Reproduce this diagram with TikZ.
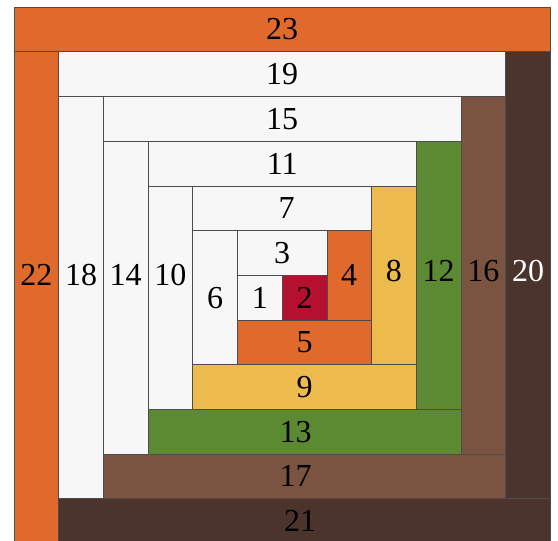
\documentclass[tikz,border=0pt]{standalone}
\usepackage{fontspec}
\setmainfont{Liberation Serif}
\usepackage{tikz}
\usetikzlibrary{positioning}
\usepackage{xcolor}
\definecolor{rust}{HTML}{DF6A2C}
\definecolor{darkbrown}{HTML}{4B342C}
\definecolor{midbrown}{HTML}{7A5441}
\definecolor{leaf}{HTML}{5C8A32}
\definecolor{mustard}{HTML}{EDBA4E}
\definecolor{crimson}{HTML}{B5102F}
\definecolor{offwhite}{HTML}{F7F7F7}

\begin{document}
\begin{tikzpicture}[
    x=44.7pt, y=-44.7pt,
    strip/.style={draw=black!70, line width=0.6pt},
    num/.style={inner sep=0pt, font=\fontsize{32}{38}\selectfont}
]
\useasboundingbox (-0.313,-0.157) rectangle (12.170,11.924);
\clip (-0.313,-0.157) rectangle (12.170,11.924);
\fill[white] (-0.313,-0.157) rectangle (12.170,11.924);

% Outer round
\draw[strip, fill=rust] (0,0) rectangle (12,1);
\draw[strip, fill=rust] (0,1) rectangle (1,12);
\draw[strip, fill=darkbrown] (1,11) rectangle (12,12);
\draw[strip, fill=darkbrown] (11,1) rectangle (12,11);
% Fifth round
\draw[strip, fill=offwhite] (1,1) rectangle (11,2);
\draw[strip, fill=offwhite] (1,2) rectangle (2,11);
% Fourth round
\draw[strip, fill=midbrown] (2,10) rectangle (11,11);
\draw[strip, fill=midbrown] (10,2) rectangle (11,10);
\draw[strip, fill=offwhite] (2,2) rectangle (10,3);
\draw[strip, fill=offwhite] (2,3) rectangle (3,10);
% Third round
\draw[strip, fill=leaf] (3,9) rectangle (10,10);
\draw[strip, fill=leaf] (9,3) rectangle (10,9);
\draw[strip, fill=offwhite] (3,3) rectangle (9,4);
\draw[strip, fill=offwhite] (3,4) rectangle (4,9);
% Second round
\draw[strip, fill=mustard] (4,8) rectangle (9,9);
\draw[strip, fill=mustard] (8,4) rectangle (9,8);
\draw[strip, fill=offwhite] (4,4) rectangle (8,5);
\draw[strip, fill=offwhite] (4,5) rectangle (5,8);
% First round
\draw[strip, fill=rust] (5,7) rectangle (8,8);
\draw[strip, fill=rust] (7,5) rectangle (8,7);
\draw[strip, fill=offwhite] (5,5) rectangle (7,6);
% Centre
\draw[strip, fill=crimson] (6,6) rectangle (7,7);
\draw[strip, fill=offwhite] (5,6) rectangle (6,7);

% Numbers
\node[num] (n1) at (5.5,6.5) {1};
\node[num] (n2) at (6.5,6.5) {2};
\node[num] (n3) at (6,5.5) {3};
\node[num] (n4) at (7.5,6) {4};
\node[num] (n5) at (6.5,7.5) {5};
\node[num] (n6) at (4.5,6.5) {6};
\node[num] (n7) at (6.1,4.5) {7};
\node[num] (n8) at (8.5,5.9) {8};
\node[num] (n9) at (6.5,8.5) {9};
\node[num] (n10) at (3.5,6) {10};
\node[num] (n11) at (6,3.5) {11};
\node[num] (n12) at (9.5,5.9) {12};
\node[num] (n13) at (6.3,9.5) {13};
\node[num] (n14) at (2.5,6) {14};
\node[num] (n15) at (6,2.5) {15};
\node[num] (n16) at (10.5,5.9) {16};
\node[num] (n17) at (6.3,10.5) {17};
\node[num] (n18) at (1.5,6) {18};
\node[num] (n19) at (6,1.5) {19};
\node[num, text=white] (n20) at (11.5,5.9) {20};
\node[num] (n21) at (6.4,11.5) {21};
\node[num] (n22) at (0.5,6) {22};
\node[num] (n23) at (6,0.5) {23};
\end{tikzpicture}
\end{document}
